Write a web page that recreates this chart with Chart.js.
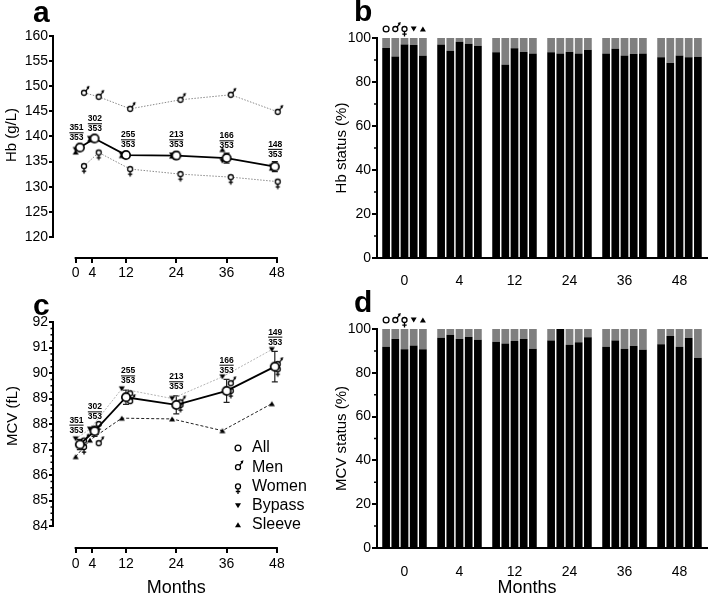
<!DOCTYPE html>
<html>
<head>
<meta charset="utf-8">
<script src="https://cdn.jsdelivr.net/npm/chart.js@4.4.1/dist/chart.umd.min.js"></script>
<style>
html,body{margin:0;padding:0;background:#fff;}
#wrap{position:relative;width:708px;height:597px;overflow:hidden;background:#fff;}
canvas{position:absolute;}
</style>
</head>
<body>
<div id="wrap">
<canvas id="pa" width="325" height="290" style="left:0;top:0"></canvas>
<canvas id="pb" width="383" height="290" style="left:325px;top:0"></canvas>
<canvas id="pc" width="325" height="307" style="left:0;top:290px"></canvas>
<canvas id="pd" width="383" height="307" style="left:325px;top:290px"></canvas>
</div>
<script>
const FONT = "'Liberation Sans', Arial, Helvetica, sans-serif";

//月（x軸）
const MONTHS       = [0, 4, 12, 24, 36, 48];
const MONTH_LABELS = ['0', '4', '12', '24', '36', '48'];
const TOTAL_N      = '353';

// a: Hb (g/L)
const HB_TICKS   = [120, 125, 130, 135, 140, 145, 150, 155, 160];
const HB_N       = ['351', '302', '255', '213', '166', '148'];
const HB_ALL     = [137.8, 139.6, 136.3, 136.2, 135.7, 134.0];
const HB_ALL_SEM = [0.5, 0.5, 0.6, 0.7, 1.0, 1.0];
const HB_MEN     = [148.7, 147.9, 145.5, 147.3, 148.3, 144.9];
const HB_WOMEN   = [134.1, 136.8, 133.5, 132.5, 131.9, 131.0];
const HB_BYPASS  = [137.4, 139.6, 136.4, 136.3, 135.1, 134.0];
const HB_SLEEVE  = [136.9, 139.4, 136.2, 136.1, 137.4, 133.7];

// c: MCV (fL)
const MCV_TICKS   = [84, 85, 86, 87, 88, 89, 90, 91, 92];
const MCV_N       = ['351', '302', '255', '213', '166', '149'];
const MCV_ALL     = [87.2, 87.72, 89.05, 88.75, 89.3, 90.25];
const MCV_ALL_SEM = [0.2, 0.2, 0.28, 0.35, 0.45, 0.6];
const MCV_MEN     = [87.35, 87.25, 88.9, 88.85, 89.6, 90.35];
const MCV_WOMEN   = [87.1, 88.0, 89.2, 88.75, 89.3, 90.15];
const MCV_BYPASS  = [87.42, 87.8, 89.38, 89.0, 89.85, 90.92];
const MCV_SLEEVE  = [86.72, 87.37, 88.23, 88.2, 87.74, 88.8];

// b: Hb status (%)  黒=正常の割合
const HB_ST_ALL    = [95.4, 97.1, 93.5, 93.5, 93.0, 91.2];
const HB_ST_MEN    = [91.6, 94.2, 87.8, 93.0, 95.1, 88.8];
const HB_ST_WOMEN  = [97.0, 98.3, 95.3, 93.8, 92.1, 92.1];
const HB_ST_BYPASS = [96.8, 97.4, 93.6, 93.0, 92.7, 91.2];
const HB_ST_SLEEVE = [91.9, 96.5, 93.0, 94.7, 93.0, 91.5];

// d: MCV status (%)
const MCV_ST_ALL    = [91.9, 96.0, 94.2, 94.7, 91.9, 93.0];
const MCV_ST_MEN    = [95.6, 97.4, 93.4, 100, 94.7, 96.8];
const MCV_ST_WOMEN  = [90.7, 95.6, 94.5, 92.8, 91.0, 91.9];
const MCV_ST_BYPASS = [92.5, 96.5, 95.4, 94.0, 92.4, 95.9];
const MCV_ST_SLEEVE = [90.8, 95.1, 91.0, 96.2, 90.5, 86.9];

const STATUS_MAX = 100;

//重なりを避けるための横ずらし（見た目用）
const JIT = {
    all: [1, 0.5, 0, 0, 0, -0.5],
    sex: [2, 1.5, 1, 1, 1, 0.2],
    op : [0, -0.6, -1, -1, -1, -1.2],
    lab: [0.2, 0.6, 0.5, 0, 0, -0.4]
};

Chart.defaults.font.family = FONT;
Chart.defaults.color = '#000';

//マーカーを描く
function drawMarker(ctx, type, x, y){
    ctx.save();
    ctx.strokeStyle = '#000';
    ctx.fillStyle   = '#fff';
    ctx.lineWidth   = 1.3;
    if (type === 'all' || type === 'allBig'){
        const r = type === 'allBig' ? 4.2 : 2.9;
        ctx.lineWidth = type === 'allBig' ? 1.7 : 1.3;
        ctx.beginPath(); ctx.arc(x, y, r, 0, Math.PI*2); ctx.fill(); ctx.stroke();
    }
    else if (type === 'men'){
        const r = 2.5;
        ctx.beginPath(); ctx.arc(x, y, r, 0, Math.PI*2); ctx.fill(); ctx.stroke();
        ctx.beginPath(); ctx.moveTo(x + r*0.7, y - r*0.7); ctx.lineTo(x + r + 1.6, y - r - 2.6); ctx.stroke();
        ctx.fillStyle = '#000';
        ctx.beginPath();
        ctx.moveTo(x + r + 3.0, y - r - 4.4);
        ctx.lineTo(x + r - 0.2, y - r - 3.4);
        ctx.lineTo(x + r + 2.2, y - r - 1.0);
        ctx.closePath(); ctx.fill();
    }
    else if (type === 'women'){
        const r = 2.5;
        ctx.beginPath(); ctx.arc(x, y, r, 0, Math.PI*2); ctx.fill(); ctx.stroke();
        ctx.beginPath();
        ctx.moveTo(x, y + r); ctx.lineTo(x, y + r + 5);
        ctx.moveTo(x - 2.2, y + r + 2.6); ctx.lineTo(x + 2.2, y + r + 2.6);
        ctx.stroke();
    }
    else if (type === 'down'){
        ctx.fillStyle = '#000';
        ctx.beginPath(); ctx.moveTo(x - 3, y - 2.4); ctx.lineTo(x + 3, y - 2.4); ctx.lineTo(x, y + 2.6); ctx.closePath(); ctx.fill();
    }
    else if (type === 'up'){
        ctx.fillStyle = '#000';
        ctx.beginPath(); ctx.moveTo(x - 3, y + 2.4); ctx.lineTo(x + 3, y + 2.4); ctx.lineTo(x, y - 2.6); ctx.closePath(); ctx.fill();
    }
    ctx.restore();
}

function markerCanvas(type){
    const c = document.createElement('canvas');
    c.width = 20; c.height = 20;
    drawMarker(c.getContext('2d'), type, 10, 10);
    return c;
}

const MK = {};
for (let t of ['all', 'allBig', 'men', 'women', 'down', 'up']) { MK[t] = markerCanvas(t); }

function pts(vals, jit){
    return vals.map((v, i) => ({ x: MONTHS[i] + jit[i], y: v }));
}

function lineDs(label, vals, jit, marker, line){
    return {
        label: label,
        data: pts(vals, jit),
        pointStyle: MK[marker],
        pointRadius: 3,
        showLine: !!line,
        borderColor: line ? line.color : '#000',
        borderWidth: line ? line.width : 0,
        borderDash: line ? line.dash : [],
        tension: 0,
        fill: false,
        clip: false
    };
}

function text(ctx, s, x, y, font, align, base){
    ctx.font = font;
    ctx.textAlign = align || 'center';
    ctx.textBaseline = base || 'middle';
    ctx.fillStyle = '#000';
    ctx.fillText(s, x, y);
}

function yTitle(ctx, s, x, y){
    ctx.save();
    ctx.translate(x, y);
    ctx.rotate(-Math.PI/2);
    text(ctx, s, 0, 0, '15px ' + FONT);
    ctx.restore();
}

//折れ線パネル（a, c）
function linePanel(id, cfg){
    const plugin = {
        id: 'deco_' + id,
        beforeDatasetsDraw(chart){
            const ctx = chart.ctx, a = chart.chartArea, x = chart.scales.x, y = chart.scales.y;
            ctx.save();
            ctx.strokeStyle = '#000';
            ctx.lineWidth = 2;
            ctx.beginPath();
            ctx.moveTo(a.left, y.getPixelForValue(cfg.yTicks[0]) + 1);
            ctx.lineTo(a.left, y.getPixelForValue(cfg.yTicks[cfg.yTicks.length - 1]) - 1);
            ctx.moveTo(x.getPixelForValue(MONTHS[0]) - 1, a.bottom);
            ctx.lineTo(x.getPixelForValue(MONTHS[MONTHS.length - 1]) + 1, a.bottom);
            ctx.stroke();
            //小目盛り
            if (cfg.minor){
                ctx.lineWidth = 1.5;
                ctx.beginPath();
                const lo = cfg.yTicks[0], hi = cfg.yTicks[cfg.yTicks.length - 1];
                for (let v = lo; v < hi; v += cfg.minor){
                    if (Math.abs(v - Math.round(v)) < 1e-6) continue;
                    const py = y.getPixelForValue(v);
                    ctx.moveTo(a.left - 2.5, py); ctx.lineTo(a.left, py);
                }
                ctx.stroke();
            }
            //誤差棒
            ctx.lineWidth = 1.2;
            ctx.strokeStyle = '#222';
            cfg.all.forEach((v, i) => {
                const px  = x.getPixelForValue(MONTHS[i] + JIT.all[i]);
                const top = y.getPixelForValue(v + cfg.sem[i]);
                const bot = y.getPixelForValue(v - cfg.sem[i]);
                ctx.beginPath();
                ctx.moveTo(px, top); ctx.lineTo(px, bot);
                ctx.moveTo(px - 3, top); ctx.lineTo(px + 3, top);
                ctx.moveTo(px - 3, bot); ctx.lineTo(px + 3, bot);
                ctx.stroke();
            });
            ctx.restore();
        },
        afterDatasetsDraw(chart){
            const ctx = chart.ctx, x = chart.scales.x, y = chart.scales.y;
            ctx.save();
            const f = 'bold 8.5px ' + FONT;
            cfg.nums.forEach((n, i) => {
                const px  = x.getPixelForValue(MONTHS[i] + JIT.lab[i]);
                const top = y.getPixelForValue(cfg.all[i] + cfg.sem[i]);
                const y2  = top - cfg.gap;
                const y1  = y2 - 10;
                text(ctx, TOTAL_N, px, y2, f);
                text(ctx, n, px, y1, f);
                const w = ctx.measureText(n).width;
                ctx.strokeStyle = '#000'; ctx.lineWidth = 1;
                ctx.beginPath(); ctx.moveTo(px - w/2, y1 + 4.8); ctx.lineTo(px + w/2, y1 + 4.8); ctx.stroke();
            });
            ctx.restore();
        },
        afterDraw(chart){
            const ctx = chart.ctx, x = chart.scales.x;
            ctx.save();
            text(ctx, cfg.letter, cfg.lx, cfg.ly, 'bold 30px ' + FONT, 'left', 'alphabetic');
            yTitle(ctx, cfg.yTitle, cfg.ytx, cfg.yty);
            if (cfg.months){
                const cx = (x.getPixelForValue(MONTHS[0]) + x.getPixelForValue(MONTHS[MONTHS.length - 1])) / 2;
                text(ctx, 'Months', cx, cfg.months, '18px ' + FONT);
            }
            if (cfg.legend){
                cfg.legend.forEach((it, i) => {
                    const ly = cfg.legY + i * 19.2;
                    drawMarker(ctx, it[0], cfg.legX, ly);
                    text(ctx, it[1], cfg.legX + 14, ly, '16px ' + FONT, 'left');
                });
            }
            ctx.restore();
        }
    };

    const tickFont = { family: FONT, size: 14 };
    return new Chart(document.getElementById(id).getContext('2d'), {
        type: 'line',
        data: { datasets: cfg.datasets },
        options: {
            responsive: false,
            animation: false,
            events: [],
            layout: { padding: { left: 0, top: cfg.top, right: 33, bottom: 0 } },
            plugins: { legend: { display: false }, tooltip: { enabled: false } },
            scales: {
                x: {
                    type: 'linear', min: -5.4, max: 51.6, bounds: 'data',
                    afterBuildTicks: s => { s.ticks = MONTHS.map(v => ({ value: v })); },
                    afterFit: s => { s.height = cfg.xh; },
                    grid: { display: true, drawOnChartArea: false, drawTicks: true, tickLength: 5, lineWidth: 2, color: '#000' },
                    border: { display: false },
                    ticks: { font: tickFont, color: '#000', padding: cfg.xpad, maxRotation: 0, autoSkip: false,
                             callback: (v, i) => MONTH_LABELS[i] }
                },
                y: {
                    type: 'linear', min: cfg.yMin, max: cfg.yMax, bounds: 'data',
                    afterBuildTicks: s => { s.ticks = cfg.yTicks.map(v => ({ value: v })); },
                    afterFit: s => { s.width = 53; },
                    grid: { display: true, drawOnChartArea: false, drawTicks: true, tickLength: 4, lineWidth: 2, color: '#000' },
                    border: { display: false },
                    ticks: { font: tickFont, color: '#000', padding: 1, callback: v => String(v) }
                }
            }
        },
        plugins: [plugin]
    });
}

//棒グラフパネル（b, d）
function barPanel(id, cfg){
    const series = cfg.series;
    const datasets = [];
    series.forEach((vals, k) => {
        datasets.push({ data: vals, backgroundColor: '#000', stack: 's' + k });
        datasets.push({ data: vals.map(v => STATUS_MAX - v), backgroundColor: '#7f7f7f', stack: 's' + k });
    });
    const marks = ['all', 'men', 'women', 'down', 'up'];

    const plugin = {
        id: 'deco_' + id,
        afterDraw(chart){
            const ctx = chart.ctx, a = chart.chartArea, y = chart.scales.y;
            ctx.save();
            //小目盛り
            ctx.strokeStyle = '#000'; ctx.lineWidth = 1.5;
            ctx.beginPath();
            for (let v = 10; v < STATUS_MAX; v += 20){
                const py = y.getPixelForValue(v);
                ctx.moveTo(a.left - 3, py); ctx.lineTo(a.left, py);
            }
            ctx.stroke();
            //1群目の上に記号
            marks.forEach((m, k) => {
                const bar = chart.getDatasetMeta(k*2).data[0];
                drawMarker(ctx, m, bar.x, a.top - 9);
            });
            text(ctx, cfg.letter, cfg.lx, cfg.ly, 'bold 30px ' + FONT, 'left', 'alphabetic');
            yTitle(ctx, cfg.yTitle, 17, (a.top + a.bottom) / 2);
            if (cfg.months) text(ctx, 'Months', cfg.monthsX, cfg.months, '18px ' + FONT);
            ctx.restore();
        }
    };

    const tickFont = { family: FONT, size: 14 };
    return new Chart(document.getElementById(id).getContext('2d'), {
        type: 'bar',
        data: { labels: MONTH_LABELS, datasets: datasets },
        options: {
            responsive: false,
            animation: false,
            events: [],
            layout: { padding: { left: 0, top: cfg.top, right: 1, bottom: 0 } },
            plugins: { legend: { display: false }, tooltip: { enabled: false } },
            datasets: { bar: { categoryPercentage: 0.836, barPercentage: 0.84 } },
            scales: {
                x: {
                    stacked: true,
                    grid: { display: false },
                    border: { display: true, color: '#000', width: 2 },
                    ticks: { font: tickFont, color: '#000', padding: cfg.xpad, maxRotation: 0 },
                    afterFit: s => { s.height = cfg.xh; }
                },
                y: {
                    stacked: true, min: 0, max: STATUS_MAX,
                    ticks: { stepSize: 20, font: tickFont, color: '#000', padding: 1 },
                    grid: { display: true, drawOnChartArea: false, drawTicks: true, tickLength: 5, lineWidth: 2, color: '#000' },
                    border: { display: true, color: '#000', width: 2 },
                    afterFit: s => { s.width = 52; }
                }
            }
        },
        plugins: [plugin]
    });
}

window.addEventListener('load', function(){

    linePanel('pa', {
        letter: 'a', lx: 33, ly: 22,
        yTitle: 'Hb (g/L)', ytx: 12, yty: 135,
        top: 36, xh: 32, xpad: 2,
        yMin: 115.8, yMax: 160, yTicks: HB_TICKS,
        all: HB_ALL, sem: HB_ALL_SEM, nums: HB_N, gap: 7,
        datasets: [
            lineDs('All',    HB_ALL,    JIT.all, 'allBig', { color: '#000', width: 1.8, dash: [] }),
            lineDs('Men',    HB_MEN,    JIT.sex, 'men',    { color: '#8a8a8a', width: 1, dash: [1.5, 1.5] }),
            lineDs('Women',  HB_WOMEN,  JIT.sex, 'women',  { color: '#8a8a8a', width: 1, dash: [1.5, 1.5] }),
            lineDs('Bypass', HB_BYPASS, JIT.op,  'down',   null),
            lineDs('Sleeve', HB_SLEEVE, JIT.op,  'up',     null)
        ]
    });

    barPanel('pb', {
        letter: 'b', lx: 29, ly: 21,
        yTitle: 'Hb status (%)',
        top: 38, xh: 32, xpad: 7,
        series: [HB_ST_ALL, HB_ST_MEN, HB_ST_WOMEN, HB_ST_BYPASS, HB_ST_SLEEVE]
    });

    linePanel('pc', {
        letter: 'c', lx: 33, ly: 25,
        yTitle: 'MCV (fL)', ytx: 13, yty: 126,
        top: 32, xh: 49, xpad: 3, months: 298,
        yMin: 83.14, yMax: 92, yTicks: MCV_TICKS, minor: 0.25,
        all: MCV_ALL, sem: MCV_ALL_SEM, nums: MCV_N, gap: 9,
        legend: [['all', 'All'], ['men', 'Men'], ['women', 'Women'], ['down', 'Bypass'], ['up', 'Sleeve']],
        legX: 238, legY: 158,
        datasets: [
            lineDs('All',    MCV_ALL,    JIT.all, 'allBig', { color: '#000', width: 1.8, dash: [] }),
            lineDs('Men',    MCV_MEN,    JIT.sex, 'men',    null),
            lineDs('Women',  MCV_WOMEN,  JIT.sex, 'women',  null),
            lineDs('Bypass', MCV_BYPASS, JIT.op,  'down',   { color: '#b5b5b5', width: 1, dash: [2, 1.5] }),
            lineDs('Sleeve', MCV_SLEEVE, JIT.op,  'up',     { color: '#222', width: 1, dash: [3, 2] })
        ]
    });

    barPanel('pd', {
        letter: 'd', lx: 29, ly: 22,
        yTitle: 'MCV status (%)',
        top: 39, xh: 49, xpad: 8, months: 298, monthsX: 202,
        series: [MCV_ST_ALL, MCV_ST_MEN, MCV_ST_WOMEN, MCV_ST_BYPASS, MCV_ST_SLEEVE]
    });
});
</script>
</body>
</html>
